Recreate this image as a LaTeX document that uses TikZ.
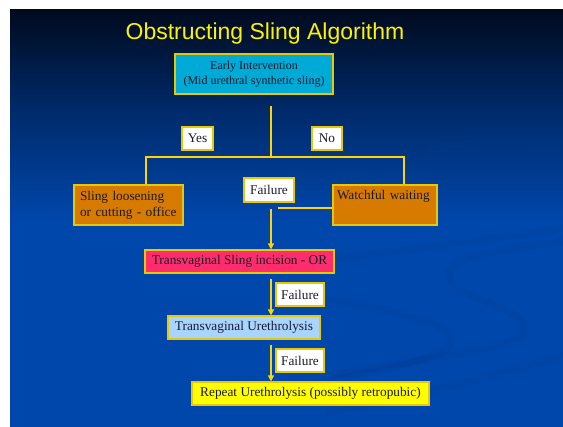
\documentclass[tikz,border=0pt]{standalone}
\usepackage{fontspec}
\setmainfont{Liberation Serif}
\newfontfamily\titlefont{Liberation Sans}
\usetikzlibrary{arrows.meta}
\definecolor{bgtop}{HTML}{000A1E}
\definecolor{bgmid}{HTML}{002A6A}
\definecolor{bgblue}{HTML}{0047AB}
\definecolor{swoosh}{HTML}{003A90}
\definecolor{linegold}{HTML}{FFD400}
\definecolor{edgegold}{HTML}{E8C800}
\definecolor{boxtext}{HTML}{1A1A2A}
\definecolor{cyanbox}{HTML}{00AAD6}
\definecolor{orangebox}{HTML}{D67A00}
\definecolor{pinkbox}{HTML}{FF2D6E}
\definecolor{lightbluebox}{HTML}{A8D4FF}
\definecolor{yellowbox}{HTML}{FFFF00}
\begin{document}
\begin{tikzpicture}[x=1pt,y=-1pt,
  boxbase/.style={draw=edgegold, line width=1.2pt, text=boxtext, inner sep=0pt,
    font=\fontsize{13.3}{16}\selectfont},
  labelbox/.style={boxbase, fill=white, minimum height=23pt},
  conn/.style={draw=linegold, line width=1.8pt},
  arr/.style={conn, -{Triangle[width=6pt,length=6pt]}},
  swooshline/.style={draw=swoosh, line width=7pt, opacity=0.22, line cap=round}]
% background
\fill[white] (0,0) rectangle (563,427);
\shade[top color=bgtop, bottom color=bgmid] (10,10) rectangle (563,110);
\shade[top color=bgmid, bottom color=bgblue] (10,109.5) rectangle (563,220);
\fill[bgblue] (10,219.5) rectangle (563,427);
% decorative swooshes
\begin{scope}
\clip (10,10) rectangle (563,427);
\draw[swooshline] (300,262) .. controls (420,250) and (520,235) .. (563,228);
\draw[swooshline] (563,242) .. controls (480,250) and (430,265) .. (455,285) .. controls (480,305) and (540,315) .. (520,335) .. controls (500,350) and (420,360) .. (330,375);
\draw[swooshline] (330,300) .. controls (420,315) and (470,330) .. (445,350) .. controls (420,365) and (330,380) .. (250,395);
\draw[swooshline] (563,355) .. controls (480,380) and (420,395) .. (330,412);
\draw[swooshline] (430,150) .. controls (520,130) and (540,150) .. (563,140);
\end{scope}
% title
\node[text=yellow, font=\titlefont\fontsize{23}{26}\selectfont] (title) at (265,34) {Obstructing Sling Algorithm};
% boxes
\node[boxbase, fill=cyanbox, minimum width=158pt, minimum height=40pt, align=center,
  font=\fontsize{12}{15.5}\selectfont] (early) at (254,74)
  {Early Intervention\\(Mid urethral synthetic sling)};
\node[boxbase, fill=orangebox, minimum width=109pt, minimum height=40pt, text width=97pt, align=left] (loosen) at (128.5,205)
  {Sling loosening\\or cutting - office};
\node[boxbase, fill=orangebox, minimum width=104pt, minimum height=40pt, text width=96pt, align=left] (watch) at (385,205)
  {Watchful waiting\\\strut};
\node[labelbox, minimum width=31pt] (yes) at (197.5,138.5) {Yes};
\node[labelbox, minimum width=30pt] (no) at (327,138.5) {No};
\node[labelbox, minimum width=50pt, minimum height=24pt] (fail1) at (269,190) {Failure};
\node[boxbase, fill=pinkbox, minimum width=189pt, minimum height=23pt] (incision) at (239.5,261.5)
  {Transvaginal Sling incision - OR};
\node[labelbox, minimum width=48pt] (fail2) at (300,294.5) {Failure};
\node[boxbase, fill=lightbluebox, minimum width=152pt, minimum height=23pt] (urethro) at (244,327.5)
  {Transvaginal Urethrolysis};
\node[labelbox, minimum width=48pt] (fail3) at (300,360.5) {Failure};
\node[boxbase, fill=yellowbox, minimum width=237pt, minimum height=23pt] (repeat) at (310.5,393.5)
  {Repeat Urethrolysis (possibly retropubic)};
% connector points
\coordinate (top0) at (271,106);
\coordinate (split) at (271,157);
\coordinate (splitL) at (146,157);
\coordinate (splitR) at (404,157);
\coordinate (waitEnd) at (278,208);
\coordinate (down0) at (271,209);
\coordinate (down1) at (271,279);
\coordinate (down2) at (271,345);
% connectors
\draw[conn] (top0) -- (split);
\draw[conn] (splitL |- loosen.north) -- (splitL) -- (splitR) -- (splitR |- watch.north);
\draw[conn] (watch.west |- waitEnd) -- (waitEnd);
\draw[arr] (down0) -- (down0 |- incision.north);
\draw[arr] (down1) -- (down1 |- urethro.north);
\draw[arr] (down2) -- (down2 |- repeat.north);
\end{tikzpicture}
\end{document}
